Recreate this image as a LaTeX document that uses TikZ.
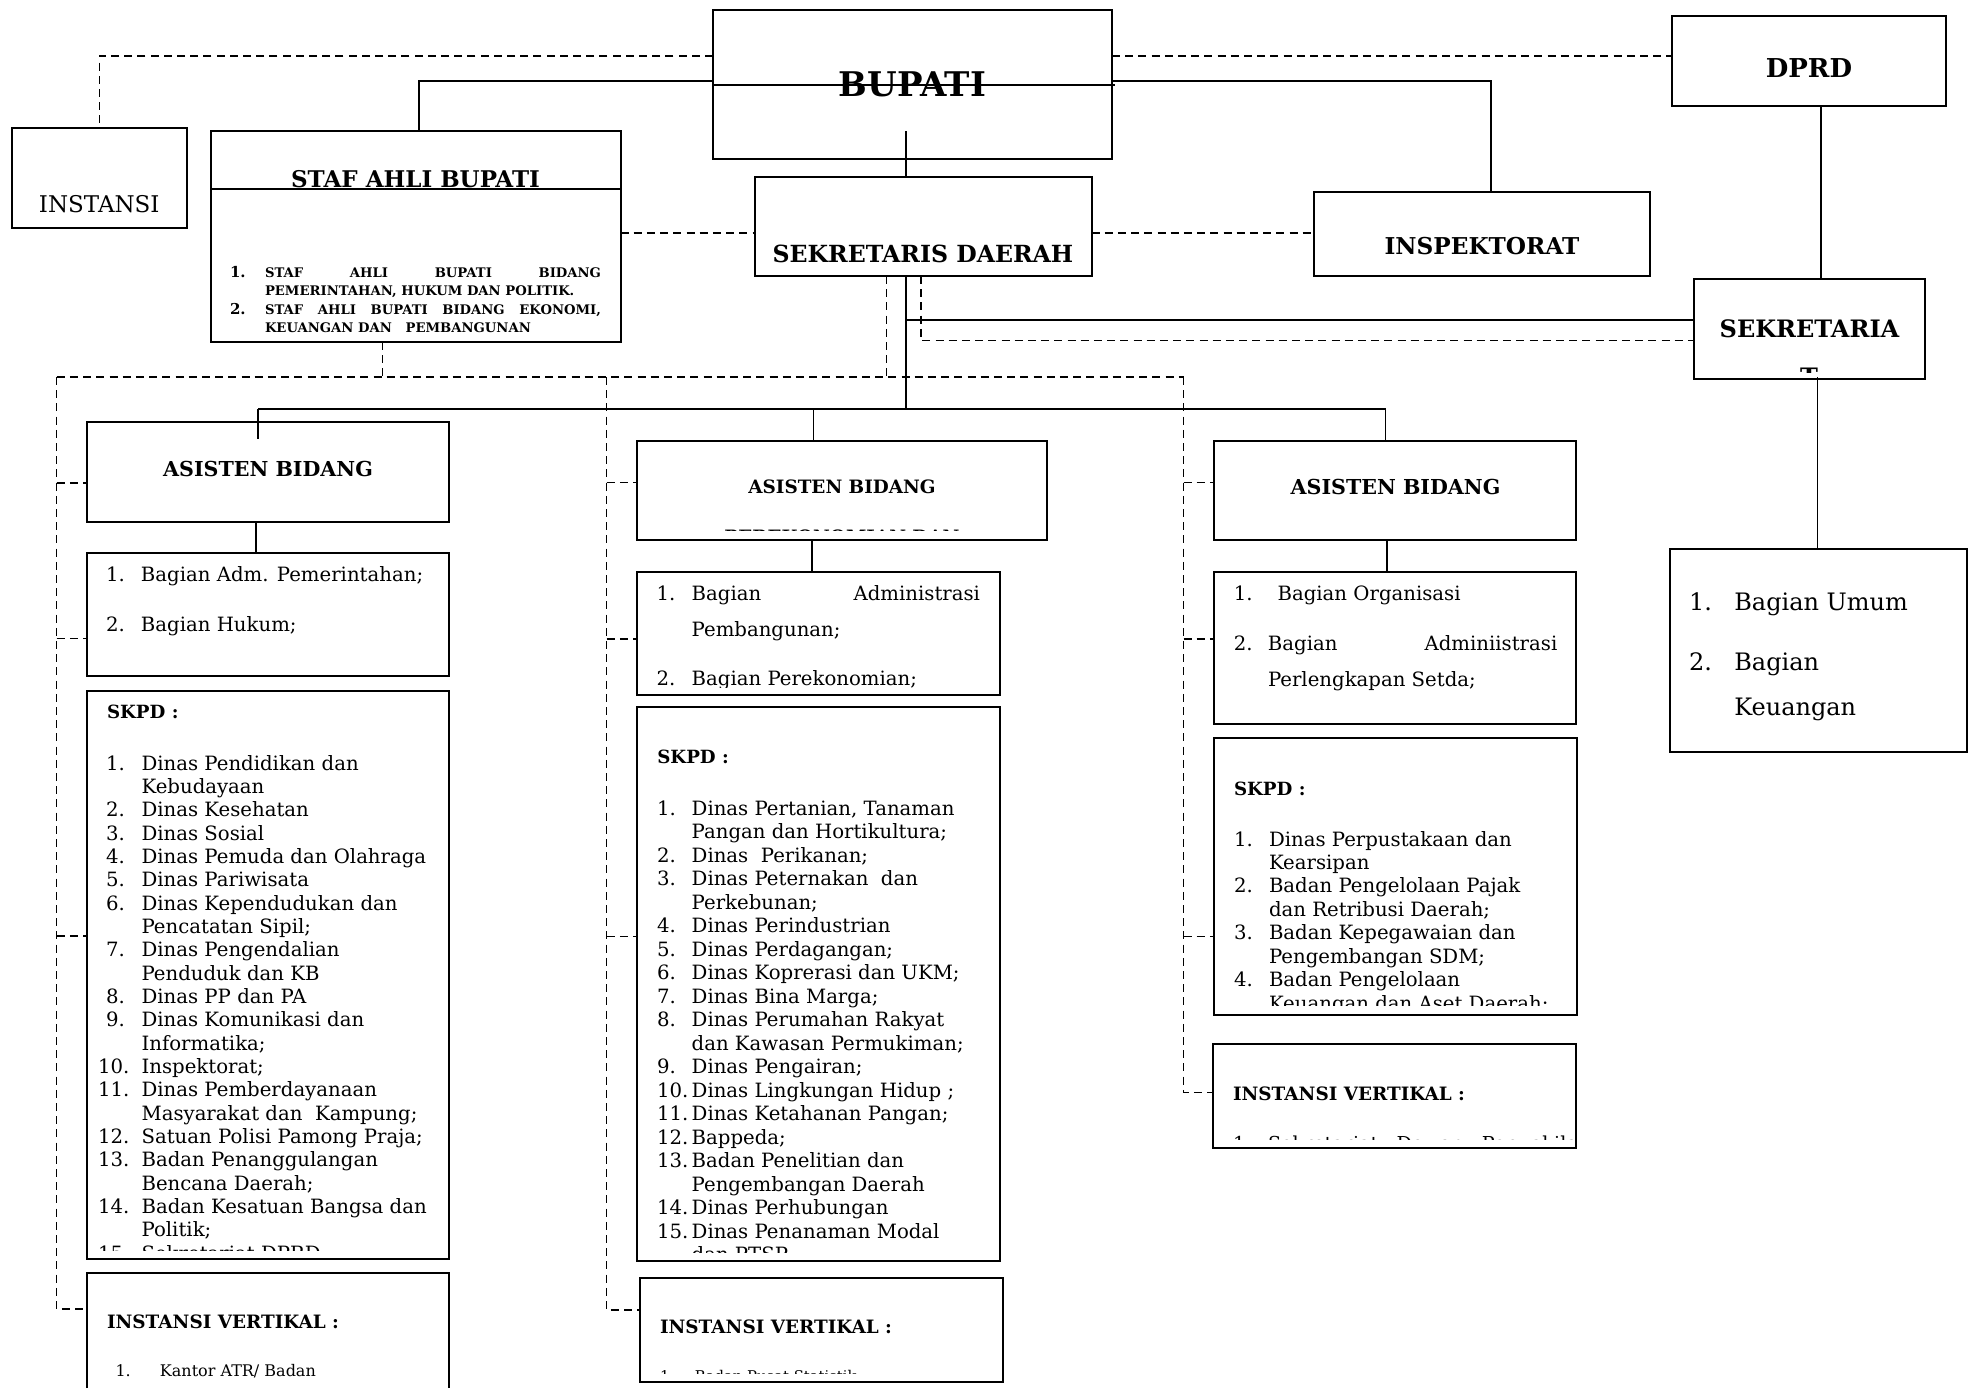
\documentclass[tikz,border=0pt]{standalone}
\usepackage{fontspec}
\setmainfont{DejaVu Serif}
\usetikzlibrary{fit}
\newcommand\fsz[2]{\fontsize{#1pt}{#2pt}\selectfont}
\newlength\numw
\setlength\numw{17.5pt}
\newcommand\li[2]{\makebox[\numw][l]{#1}#2}
\newcommand\tw[1]{\hspace*{-4pt}#1}
\tikzset{
  box/.style={draw, line width=1pt, inner sep=0pt, outer sep=0pt},
  conn/.style={line width=0.85pt},
  dline/.style={line width=0.75pt, dash pattern=on 4pt off 2.6pt},
  txt/.style={inner sep=0pt, outer sep=0pt},
  bw/.style={txt, anchor=base west},
  bc/.style={txt, anchor=base},
  bodyf/.style={font=\fsz{9.85}{11.7}},
}
\begin{document}
\begin{tikzpicture}[x=0.5pt,y=-0.5pt]
\useasboundingbox (0,0) rectangle (1969,1388);
% ---------------- boxes
\node[box, fit={(713,10)(1112,159)}] (bupati) {};
\node[box, fit={(1672,16)(1945.6,106)}] (dprd) {};
\node[box, fit={(11.5,128)(187,228)}] (instansi) {};
\node[box, fit={(210.5,130.7)(620.5,342)}] (staf) {};
\node[box, fit={(754.5,176.7)(1091.5,276)}] (sekda) {};
\node[box, fit={(1314,191.7)(1650,276)}] (insp) {};
\node[box, fit={(1694,279.3)(1925,379.3)}] (sekret) {};
\node[box, fit={(86.5,422)(449.4,521.5)}] (asL) {};
\node[box, fit={(636.5,441)(1047,540)}] (asM) {};
\node[box, fit={(1214,441)(1576,540)}] (asR) {};
\node[box, fit={(86.5,552.7)(449.4,676)}] (bgL) {};
\node[box, fit={(636.5,571.7)(1000,695.3)}] (bgM) {};
\node[box, fit={(1214,571.7)(1576,724)}] (bgR) {};
\node[box, fit={(86.5,691)(449.4,1259.3)}] (skL) {};
\node[box, fit={(636.5,707.3)(1000,1261)}] (skM) {};
\node[box, fit={(1213.5,738.3)(1576.5,1015)}] (skR) {};
\node[txt, fit={(86.5,1273)(449.4,1388)}] (ivL) {};
\draw[line width=1pt] (ivL.south west) |- (ivL.north east) -- (ivL.south east);
\node[box, fit={(640,1277.7)(1002.7,1381.7)}] (ivM) {};
\node[box, fit={(1213,1044)(1576,1148.3)}] (ivR) {};
\node[box, fit={(1669.8,549.3)(1967,751.7)}] (bum) {};
\draw[line width=1pt] (staf.west |- 0,188.7) -- (staf.east |- 0,188.7);

% ---------------- solid connectors
\coordinate (bstart) at (906,131);
\coordinate (jC) at (906,409);
\coordinate (jL) at (258,409);
\coordinate (jR) at (1385.5,409);
\draw[conn] (bupati.west |- 0,81) -| (staf.north -| 419,0);
\draw[conn] (bupati.east |- 0,81) -| (insp.north -| 1491,0);
\draw[conn] (bupati.west |- 0,85) -- ([xshift=1.5pt]bupati.east |- 0,85);
\draw[conn] (bstart) -- (sekda.north -| bstart);
\draw[conn] (sekda.south -| jC) -- (jC);
\draw[conn] (jC |- 0,320) -- (sekret.west |- 0,320);
\draw[conn] (jL) -- (jR);
\draw[conn] (jL) -- ([yshift=-8.5pt]asL.north -| jL);
\draw[conn] (jC -| 813.6,0) -- (asM.north -| 813.6,0);
\draw[conn] (jR) -- (asR.north -| jR);
\draw[conn] (asL.south -| 256.3,0) -- (bgL.north -| 256.3,0);
\draw[conn] (asM.south -| 812,0) -- (bgM.north -| 812,0);
\draw[conn] (asR.south -| 1387,0) -- (bgR.north -| 1387,0);
\draw[conn] (dprd.south -| 1820.8,0) -- (sekret.north -| 1820.8,0);
\draw[conn] ([yshift=1pt]sekret.south -| 1817.5,0) -- (bum.north -| 1817.5,0);

% ---------------- dashed connectors
\coordinate (trL) at (56.7,377);
\coordinate (trM) at (606.7,377);
\coordinate (trR) at (1183.5,377);
\draw[dline] (bupati.west |- 0,56) -| (instansi.north);
\draw[dline] (bupati.east |- 0,56) -- (dprd.west |- 0,56);
\draw[dline] (staf.east |- 0,233) -- (sekda.west |- 0,233);
\draw[dline] (sekda.east |- 0,233) -- (insp.west |- 0,233);
\draw[dline] (sekda.south -| 886.5,0) -- (trL -| 886.5,0);
\draw[dline] (sekda.south -| 921,0) |- (sekret.west |- 0,340.7);
\draw[dline] (staf.south -| 382.5,0) -- (trL -| 382.5,0);
\draw[dline] (trL) -- (trR);
\draw[dline] (trL) |- (ivL.west |- 0,1309);
\draw[dline] (trL |- 0,483) -- (asL.west |- 0,483);
\draw[dline] (trL |- 0,638.3) -- (bgL.west |- 0,638.3);
\draw[dline] (trL |- 0,936) -- (skL.west |- 0,936);
\draw[dline] (trM) |- (ivM.west |- 0,1310);
\draw[dline] (trM |- 0,482.7) -- (asM.west |- 0,482.7);
\draw[dline] (trM |- 0,639) -- (bgM.west |- 0,639);
\draw[dline] (trM |- 0,936.7) -- (skM.west |- 0,936.7);
\draw[dline] (trR) |- (ivR.west |- 0,1092.7);
\draw[dline] (trR |- 0,482.3) -- (asR.west |- 0,482.3);
\draw[dline] (trR |- 0,639) -- (bgR.west |- 0,639);
\draw[dline] (trR |- 0,936.7) -- (skR.west |- 0,936.7);

% ---------------- header texts
\node[bc, font=\fsz{17}{20}\bfseries] (tbup) at (912.5,96.7) {BUPATI};
\node[bc, font=\fsz{13}{16}\bfseries] (tdprd) at (1809,77.5) {DPRD};
\node[bc, font=\fsz{11.5}{14}] (tinst) at (99.25,212) {INSTANSI};
\node[bc, font=\fsz{11.5}{14}\bfseries] (tstaf) at (415.5,187) {STAF AHLI BUPATI};
\node[bc, font=\fsz{11.8}{14}\bfseries] (tsekda) at (923,262) {SEKRETARIS DAERAH};
\node[bc, font=\fsz{11.6}{14}\bfseries] (tinsp) at (1482,254) {INSPEKTORAT};
\node[bc, font=\fsz{12}{14}\bfseries] (tsekret) at (1809.5,337) {SEKRETARIA};
\begin{scope}
\clip (1694,280) rectangle (1925,372);
\node[bc, font=\fsz{12}{14}\bfseries] (tsekretT) at (1809,385) {T};
\end{scope}

% staf ahli list
\node[bw, font=\fsz{7.5}{9}\bfseries] (sn1) at (230,277) {1.};
\node[bw, font=\fsz{7.5}{9}\bfseries] (sn2) at (230,314) {2.};
\node[bw, font=\fsz{6.6}{9.2}\bfseries] (sl1) at (265,277) {\makebox[168pt][s]{STAF\hfill AHLI\hfill BUPATI\hfill BIDANG}};
\node[bw, font=\fsz{6.6}{9.2}\bfseries] (sl2) at (265,295) {PEMERINTAHAN, HUKUM DAN POLITIK.};
\node[bw, font=\fsz{6.6}{9.2}\bfseries] (sl3) at (265,314) {\makebox[168pt][s]{STAF\hfill AHLI\hfill BUPATI\hfill BIDANG\hfill EKONOMI,}};
\node[bw, font=\fsz{6.6}{9.2}\bfseries] (sl4) at (265,332) {KEUANGAN DAN\ \ \ PEMBANGUNAN};

% asisten headers
\node[bc, font=\fsz{10.3}{12}\bfseries] (tasL) at (268,476.7) {ASISTEN BIDANG};
\node[bc, font=\fsz{9.2}{11}\bfseries] (tasM) at (842,493.3) {ASISTEN BIDANG};
\begin{scope}
\clip (636.5,441) rectangle (1047,530.5);
\node[bc, font=\fsz{9.2}{11}\bfseries] (tasM2) at (842,543.5) {PEREKONOMIAN DAN};
\end{scope}
\node[bc, font=\fsz{10.3}{12}\bfseries] (tasR) at (1395.5,494) {ASISTEN BIDANG};

% bagian boxes
\node[bw, bodyf] (bgL1) at (106,581) {\li{1.}{Bagian Adm. Pemerintahan;}};
\node[bw, bodyf] (bgL2) at (106,631.7) {\li{2.}{Bagian Hukum;}};
\node[bw, bodyf] (bgM1) at (656.7,600) {\li{1.}{\makebox[144.15pt][s]{Bagian\hfill Administrasi}}};
\node[bw, bodyf] (bgM2) at (691.7,636.7) {Pembangunan;};
\begin{scope}
\clip (636.5,571.7) rectangle (1000,687);
\node[bw, bodyf] (bgM3) at (656.7,685) {\li{2.}{Bagian Perekonomian;}};
\end{scope}
\node[bw, bodyf] (bgR1) at (1233.8,600) {\makebox[21.9pt][l]{1.}Bagian Organisasi};
\node[bw, bodyf] (bgR2) at (1233.8,650) {\makebox[17.1pt][l]{2.}\makebox[144.65pt][s]{Bagian\hfill Adminiistrasi}};
\node[bw, bodyf] (bgR3) at (1268,686.7) {Perlengkapan Setda;};
\node[bw, font=\fsz{12}{14}] (bu1) at (1689,610.7) {\makebox[22.65pt][l]{1.}Bagian Umum};
\node[bw, font=\fsz{12}{14}] (bu2) at (1689,670) {\makebox[22.65pt][l]{2.}Bagian};
\node[bw, font=\fsz{12}{14}] (bu3) at (1734.3,715) {Keuangan};

% SKPD headings
\node[bw, font=\fsz{9.1}{11}\bfseries] (skLh) at (107,718.3) {SKPD :};
\node[bw, font=\fsz{9.1}{11}\bfseries] (skMh) at (657.3,763.3) {SKPD :};
\node[bw, font=\fsz{9.1}{11}\bfseries] (skRh) at (1234,795) {SKPD :};

% SKPD lists
\begin{scope}
\clip (86.5,691) rectangle (449.4,1250);
\node[bw, font=\fsz{9.85}{11.67}] (skLl) at (106,770) {\setlength\numw{17.8pt}\begin{tabular}[t]{@{}l@{}}
\li{1.}{Dinas Pendidikan dan}\\
\li{}{Kebudayaan}\\
\li{2.}{Dinas Kesehatan}\\
\li{3.}{Dinas Sosial}\\
\li{4.}{Dinas Pemuda dan Olahraga}\\
\li{5.}{Dinas Pariwisata}\\
\li{6.}{Dinas Kependudukan dan}\\
\li{}{Pencatatan Sipil;}\\
\li{7.}{Dinas Pengendalian}\\
\li{}{Penduduk dan KB}\\
\li{8.}{Dinas PP dan PA}\\
\li{9.}{Dinas Komunikasi dan}\\
\li{}{Informatika;}\\
\li{\tw{10.}}{Inspektorat;}\\
\li{\tw{11.}}{Dinas Pemberdayanaan}\\
\li{}{Masyarakat dan\ \ Kampung;}\\
\li{\tw{12.}}{Satuan Polisi Pamong Praja;}\\
\li{\tw{13.}}{Badan Penanggulangan}\\
\li{}{Bencana Daerah;}\\
\li{\tw{14.}}{Badan Kesatuan Bangsa dan}\\
\li{}{Politik;}\\
\li{\tw{15.}}{Sekretariat DPRD}
\end{tabular}};
\end{scope}
\begin{scope}
\clip (636.5,707.3) rectangle (1000,1252);
\node[bw, font=\fsz{9.85}{11.76}] (skMl) at (657,815) {\setlength\numw{17.35pt}\begin{tabular}[t]{@{}l@{}}
\li{1.}{Dinas Pertanian, Tanaman}\\
\li{}{Pangan dan Hortikultura;}\\
\li{2.}{Dinas\ \ Perikanan;}\\
\li{3.}{Dinas Peternakan\ \ dan}\\
\li{}{Perkebunan;}\\
\li{4.}{Dinas Perindustrian}\\
\li{5.}{Dinas Perdagangan;}\\
\li{6.}{Dinas Koprerasi dan UKM;}\\
\li{7.}{Dinas Bina Marga;}\\
\li{8.}{Dinas Perumahan Rakyat}\\
\li{}{dan Kawasan Permukiman;}\\
\li{9.}{Dinas Pengairan;}\\
\li{10.}{Dinas Lingkungan Hidup ;}\\
\li{11.}{Dinas Ketahanan Pangan;}\\
\li{12.}{Bappeda;}\\
\li{13.}{Badan Penelitian dan}\\
\li{}{Pengembangan Daerah}\\
\li{14.}{Dinas Perhubungan}\\
\li{15.}{Dinas Penanaman Modal}\\
\li{}{dan PTSP}
\end{tabular}};
\end{scope}
\begin{scope}
\clip (1213.5,738.3) rectangle (1576.5,1005);
\node[bw, font=\fsz{9.85}{11.72}] (skRl) at (1234,846) {\setlength\numw{17.5pt}\begin{tabular}[t]{@{}l@{}}
\li{1.}{Dinas Perpustakaan dan}\\
\li{}{Kearsipan}\\
\li{2.}{Badan Pengelolaan Pajak}\\
\li{}{dan Retribusi Daerah;}\\
\li{3.}{Badan Kepegawaian dan}\\
\li{}{Pengembangan SDM;}\\
\li{4.}{Badan Pengelolaan}\\
\li{}{Keuangan dan Aset Daerah;}
\end{tabular}};
\end{scope}

% instansi vertikal
\node[bw, font=\fsz{9.2}{11}\bfseries] (ivLh) at (107,1328.3) {INSTANSI VERTIKAL :};
\node[bw, font=\fsz{9.2}{11}\bfseries] (ivMh) at (660,1333.3) {INSTANSI VERTIKAL :};
\node[bw, font=\fsz{9.2}{11}\bfseries] (ivRh) at (1233,1100) {INSTANSI VERTIKAL :};
\node[bw, font=\fsz{8}{10}] (ivL1) at (115.5,1376.7) {\makebox[22.25pt][l]{1.}Kantor ATR/ Badan};
\begin{scope}
\clip (640,1277.7) rectangle (1002.7,1373.5);
\node[bw, font=\fsz{7.4}{9}] (ivM1) at (660,1381) {\makebox[17.5pt][l]{1.}Badan Pusat Statistik};
\end{scope}
\begin{scope}
\clip (1213,1044) rectangle (1576,1139);
\node[bw, font=\fsz{9.6}{11.7}] (ivR1) at (1233,1150) {\makebox[17.5pt][l]{1.}Sekretariat\ \ \ Dewan\ \ \ Perwakilan};
\end{scope}
\end{tikzpicture}
\end{document}
